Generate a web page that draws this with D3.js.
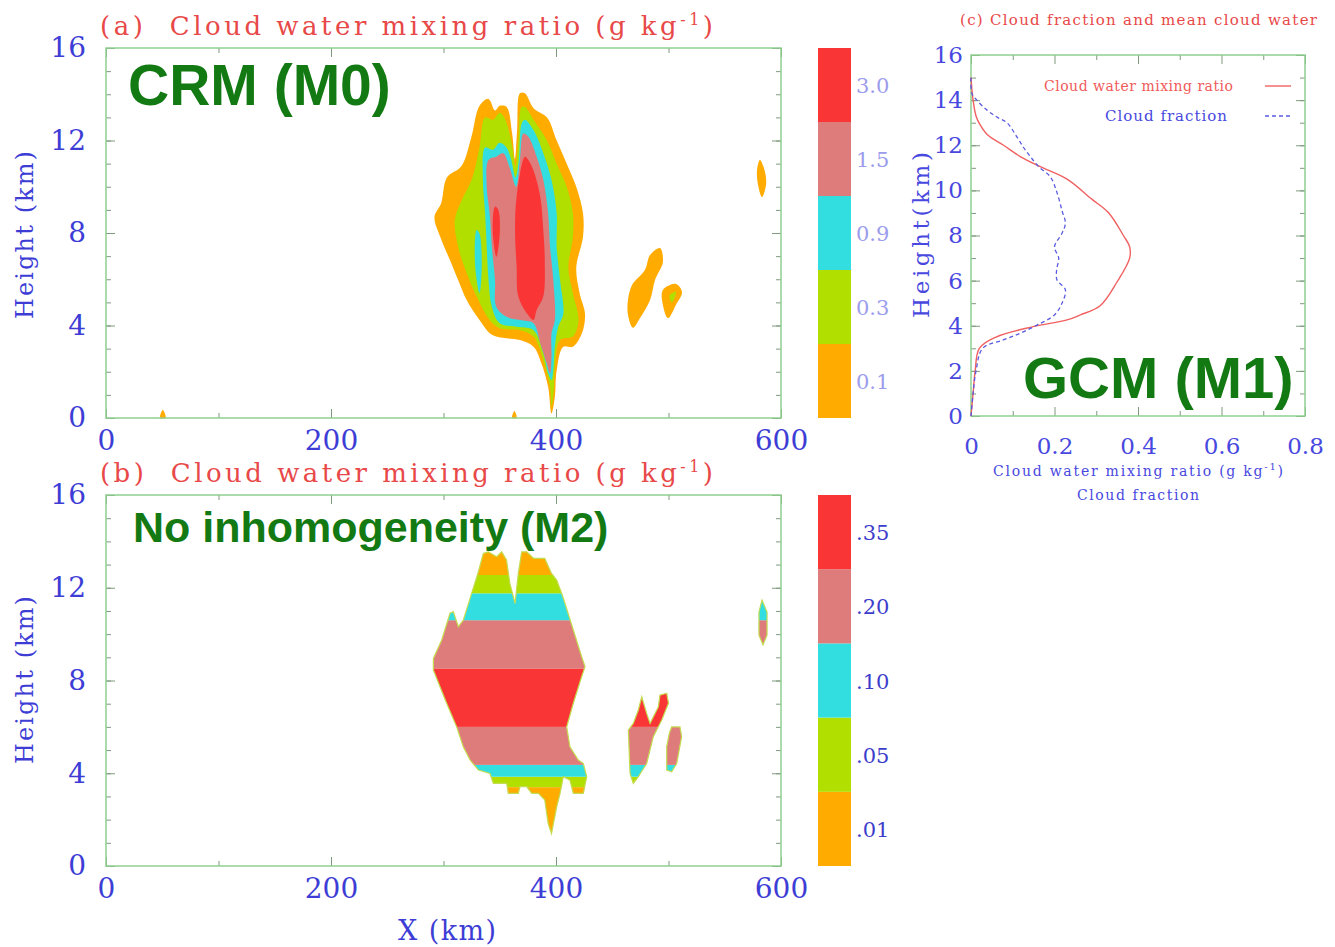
<!DOCTYPE html>
<meta charset="utf-8">
<style>
    body { margin: 0; background: #fff; }
    text { font-family: "DejaVu Serif", serif; }
    .tag { font-family: "Liberation Sans", Arial, sans-serif; font-weight: bold; fill: #137a13; }
</style>
<svg width="1335" height="947"></svg>
<script src="https://d3js.org/d3.v7.min.js"></script>
<script>

    // ---- data ----
    var levelsA = ["0.1", "0.3", "0.9", "1.5", "3.0"];
    var levelsB = [".01", ".05", ".10", ".20", ".35"];
    var levelColors = ["#ffab00", "#b0df00", "#33dee0", "#de7c7c", "#fa3535"];

    // panel (a): filled contour outlines, [x km, height km]
    var cloudA0 = [[340,13.8],[332,13.5],[325,12.2],[316,10.9],[303,10.4],[298,9.3],[292,8.7],[297,7.85],[306,6.8],[313,5.97],[320.6,5.1],[332,4.24],[343,3.6],[356,3.45],[368,3.37],[380,3.08],[387,2.37],[393,1.35],[396,0.2],[399,0.92],[400.6,2.07],[406.5,3.08],[415,3.08],[423,3.66],[425.8,4.5],[421,5.4],[418,6.5],[424,7.84],[424,8.85],[418,10.0],[409.5,11.0],[400.6,12.0],[392,13.0],[380,13.4],[372.4,14.04],[368,14.04],[365.5,12.5],[363.5,11.2],[361,12.3],[356,13.46],[350,13.5],[345.8,13.3]];
    var cloudA1 = [[337,13.0],[332,11.7],[325,10.3],[316,9.4],[310,8.56],[313,7.4],[320.6,6.26],[329.5,5.25],[341,4.24],[350,3.88],[368,3.8],[380,3.52],[388.7,2.5],[394.7,1.35],[396,0.5],[398,1.2],[399,2.2],[403.6,3.37],[415,3.52],[420,4.24],[415,5.4],[411,6.5],[415,7.84],[415,8.85],[409.5,10.0],[400.6,11.0],[392,12.0],[380,12.9],[372.4,13.46],[369.5,13.46],[366.5,12.0],[364,10.9],[360.5,11.9],[355,12.9],[350,13.2],[344,12.9]];
    var cloudA2 = [[337,11.7],[335,10.3],[337,8.85],[338.4,7.4],[340,5.97],[343,4.8],[350,4.1],[365,3.95],[380,3.8],[388.7,2.8],[393,1.93],[396,1.64],[397.6,2.07],[399,3.08],[402,3.95],[406.5,4.5],[403.6,5.97],[400.6,7.4],[400.6,8.85],[396,10.3],[388.7,11.45],[380,12.45],[372.4,12.9],[369.5,12.74],[367,11.2],[364,10.4],[360,11.2],[356,11.7],[350,11.9],[344,11.6]];
    var streakA = [[329.5,8.13],[328,6.69],[332,5.4],[334,6.54],[332,7.98]];
    var cloudA3 = [[340,11.16],[338.4,10.0],[341,8.85],[343,7.4],[345.8,5.97],[347,4.8],[356,4.38],[368,4.24],[380,4.1],[386,3.23],[391.7,2.37],[394.7,1.93],[396,2.65],[396,3.66],[399,4.24],[397.6,5.97],[394.7,7.4],[393,8.85],[388.7,10.3],[382.8,11.3],[375.4,12.16],[371,12.3],[368,11.16],[364.5,10.0],[359,10.8],[353,11.45],[347,11.3]];
    var cloudA4 = [[372.4,11.3],[365,9.57],[363.6,8.13],[365,6.54],[366.5,5.25],[374,4.53],[380,4.24],[382.8,4.67],[388.7,5.25],[390,6.83],[388.7,8.13],[386,9.57],[380,10.7],[375.4,11.16]];
    var coreA = [[345.8,9.14],[343.7,8.13],[347,6.97],[350,7.98],[348.7,9.0]];
    var blobA1 = [[464,5.1],[467.6,5.75],[479,6.4],[483.6,7.05],[492.4,7.35],[495,6.75],[488,5.97],[483.6,5.1],[474.7,4.32],[468.4,3.9],[464,4.45]];
    var blobA2 = [[495,5.54],[506.7,5.8],[512,5.45],[506.7,4.9],[499.6,4.32],[495,4.9]];
    var blobA2g = [[501,5.3],[506.7,5.45],[503,5.0]];
    var blobA3 = [[581.3,11.16],[585.8,10.64],[586.7,10.08],[583.1,9.56],[579.6,10.08],[578.7,10.72]];
    var speckA1 = [[48,0],[50.5,0.35],[53,0]];
    var speckA2 = [[361,0],[363,0.3],[365,0]];

    // panel (b): cloud outlines and height bands (level index per band)
    var cloudB = [[335.4,13.48],[339.8,13.55],[347.3,13.34],[351.7,13.55],[356,13.2],[359,12.19],[363.6,11.32],[366.5,12.62],[369.5,13.55],[374,13.55],[380,13.27],[390,13.27],[396,12.62],[400.6,12.33],[405,11.76],[408,11.32],[415.4,10.18],[422.8,9.03],[425.8,8.6],[422.8,8.16],[415.4,7.02],[409.5,6.0],[412.4,5.14],[419.8,4.57],[424.3,4.42],[427.3,3.85],[424.3,3.13],[415.4,3.13],[412.4,3.7],[406.5,3.85],[403.6,3.13],[400.6,2.55],[396,1.4],[393,1.84],[390,2.85],[384.3,3.13],[378.4,3.13],[374,3.42],[368,3.42],[366.5,3.13],[357.6,3.13],[356.2,3.56],[344.3,3.56],[341.3,3.99],[331,4.14],[323.6,4.57],[317.6,5.14],[311.7,6.0],[302.8,7.02],[296.9,7.73],[291,8.45],[291,8.95],[298.4,9.75],[305.8,10.9],[308.7,10.97],[313.2,10.32],[317.6,10.6],[325,11.76],[331,12.69]];
    var blobB1 = [[476.2,7.3],[480.6,6.58],[483.6,6.15],[491,6.87],[492.4,7.37],[498.4,7.45],[500,7.02],[494,6.3],[486.5,5.58],[480.6,4.42],[473.2,3.85],[468.7,3.56],[465.8,3.99],[464.3,5.86],[468.7,6.15],[473.2,6.73]];
    var blobB2 = [[502.8,6.0],[510.2,6.0],[511.7,5.58],[507.3,4.42],[502.8,4.06],[498.4,4.14],[498.4,5.14],[500.7,5.72]];
    var blobB3 = [[583.1,11.47],[587.6,10.95],[587.6,9.96],[584,9.53],[580.4,9.96],[580.4,10.95]];
    var bandEdgesB = [0, 3.4, 3.85, 4.36, 6.0, 8.52, 10.6, 11.76, 12.55, 16];
    var bandLevelB = [0, 1, 2, 3, 4, 3, 2, 1, 0];

    // panel (c): mean profiles
    var qcHeight = [0, 1, 2, 3, 3.5, 3.96, 4.26, 4.48, 4.9, 5.95, 7.0, 7.5, 8.0, 9.0, 9.6, 10.5, 11.05, 11.5, 12.0, 12.45, 12.9, 13.3, 14.0, 14.5, 15.0];
    var qcValue  = [0, 0.005, 0.01, 0.02, 0.06, 0.149, 0.23, 0.262, 0.31, 0.35, 0.38, 0.38, 0.365, 0.33, 0.29, 0.23, 0.166, 0.118, 0.078, 0.04, 0.022, 0.012, 0.005, 0.002, 0];
    var cfHeight = [0, 1, 2, 3, 3.37, 3.67, 4.03, 4.48, 5.0, 5.6, 6.03, 6.47, 7.0, 7.5, 8.1, 8.55, 9.1, 9.9, 10.6, 11.05, 11.5, 11.9, 12.37, 13.0, 13.25, 13.56, 14.0, 14.3, 15.0];
    var cfValue  = [0, 0.005, 0.012, 0.028, 0.077, 0.118, 0.158, 0.2, 0.218, 0.226, 0.206, 0.205, 0.21, 0.2, 0.218, 0.226, 0.218, 0.206, 0.19, 0.162, 0.142, 0.126, 0.11, 0.086, 0.062, 0.038, 0.014, 0.002, 0];

    // ---- drawing ----
    var svg = d3.select("svg");
    var frameColor = "#8fcf8f", tickColor = "#7f9a7f", blue = "#3d3dd6", red = "#e84848";

    var xA = d3.scaleLinear().domain([0, 600]).range([106, 781]);
    var yA = d3.scaleLinear().domain([0, 16]).range([418, 48]);
    var yB = d3.scaleLinear().domain([0, 16]).range([866, 495]);
    var xC = d3.scaleLinear().domain([0, 0.8]).range([971, 1305]);
    var yC = d3.scaleLinear().domain([0, 16]).range([416, 55]);

    function axes(x, y, xMaj, xMin, yMaj, yMin, fs, padX, padY, color) {
        var g = svg.append("g");
        var x0 = x.range()[0], x1 = x.range()[1], y0 = y.range()[0], y1 = y.range()[1];
        g.append("g").attr("transform", "translate(0," + y0 + ")")
            .call(d3.axisBottom(x).tickValues(xMin).tickSize(-5).tickFormat(""));
        g.append("g").attr("transform", "translate(0," + y0 + ")")
            .call(d3.axisBottom(x).tickValues(xMaj).tickSize(-9).tickPadding(padX).tickFormat(d3.format("")));
        g.append("g").attr("transform", "translate(0," + y1 + ")")
            .call(d3.axisTop(x).tickValues(xMin).tickSize(-5).tickFormat(""));
        g.append("g").attr("transform", "translate(0," + y1 + ")")
            .call(d3.axisTop(x).tickValues(xMaj).tickSize(-9).tickFormat(""));
        g.append("g").attr("transform", "translate(" + x0 + ",0)")
            .call(d3.axisLeft(y).tickValues(yMin).tickSize(-5).tickFormat(""));
        g.append("g").attr("transform", "translate(" + x0 + ",0)")
            .call(d3.axisLeft(y).tickValues(yMaj).tickSize(-9).tickPadding(padY));
        g.append("g").attr("transform", "translate(" + x1 + ",0)")
            .call(d3.axisRight(y).tickValues(yMin).tickSize(-5).tickFormat(""));
        g.append("g").attr("transform", "translate(" + x1 + ",0)")
            .call(d3.axisRight(y).tickValues(yMaj).tickSize(-9).tickFormat(""));
        g.selectAll(".domain").remove();
        g.selectAll(".tick line").attr("stroke", tickColor).attr("stroke-width", 1);
        g.selectAll(".tick text").attr("fill", color).attr("font-size", fs)
            .attr("font-family", "DejaVu Serif, serif");
        svg.append("rect").attr("x", x0).attr("y", y1).attr("width", x1 - x0).attr("height", y0 - y1)
            .attr("fill", "none").attr("stroke", frameColor).attr("stroke-width", 1.5);
    }

    function colorbar(y, labels, color) {
        var step = (y.range()[0] - y.range()[1]) / labels.length;
        var g = svg.append("g");
        labels.forEach(function (lab, i) {
            var top = y.range()[0] - (i + 1) * step;
            g.append("rect").attr("x", 818).attr("y", top).attr("width", 33).attr("height", step)
                .attr("fill", levelColors[i]);
            g.append("text").attr("x", 856).attr("y", top + step / 2 + 8)
                .attr("font-size", 21).attr("fill", color).text(lab);
        });
    }

    function title(x, y, label, len) {
        var t = svg.append("text").attr("x", x).attr("y", y).attr("fill", red)
            .attr("font-size", 26).attr("textLength", len).attr("lengthAdjust", "spacing")
            .attr("xml:space", "preserve").style("white-space", "pre");
        t.append("tspan").text(label + "  Cloud water mixing ratio (g kg");
        t.append("tspan").attr("dy", -10).attr("font-size", 16).text("-1");
        t.append("tspan").attr("dy", 10).text(")");
    }

    // panel (a)
    var lineA = d3.line().x(function (d) { return xA(d[0]); }).y(function (d) { return yA(d[1]); })
        .curve(d3.curveCatmullRomClosed.alpha(0.5));
    var shapesA = [[cloudA0, 0], [cloudA1, 1], [cloudA2, 2], [streakA, 2], [cloudA3, 3], [cloudA4, 4], [coreA, 4],
        [blobA1, 0], [blobA2, 0], [blobA2g, 1], [blobA3, 0], [speckA1, 0], [speckA2, 0]];
    svg.append("g").selectAll("path").data(shapesA).enter().append("path")
        .attr("d", function (d) { return lineA(d[0]); })
        .attr("fill", function (d) { return levelColors[d[1]]; });

    axes(xA, yA, [0, 200, 400, 600], [100, 300, 500], [0, 4, 8, 12, 16], d3.range(0, 17, 1), 28, 12, 20, blue);
    colorbar(yA, levelsA, "#9c9cec");
    title(100, 35, "(a)", 613);
    svg.append("text").attr("transform", "translate(33,235) rotate(-90)").attr("text-anchor", "middle")
        .attr("font-size", 24).attr("fill", blue).attr("textLength", 168).text("Height (km)");
    svg.append("text").attr("class", "tag").attr("x", 128).attr("y", 105).attr("font-size", 57).text("CRM (M0)");

    // panel (b)
    var lineB = d3.line().x(function (d) { return xA(d[0]); }).y(function (d) { return yB(d[1]); })
        .curve(d3.curveLinearClosed);
    var outlinesB = [cloudB, blobB1, blobB2, blobB3];
    svg.append("clipPath").attr("id", "cloudB").selectAll("path").data(outlinesB).enter().append("path")
        .attr("d", lineB);
    svg.append("g").attr("clip-path", "url(#cloudB)").selectAll("rect").data(bandLevelB).enter().append("rect")
        .attr("x", xA(0)).attr("width", xA(600) - xA(0))
        .attr("y", function (d, i) { return yB(bandEdgesB[i + 1]); })
        .attr("height", function (d, i) { return yB(bandEdgesB[i]) - yB(bandEdgesB[i + 1]); })
        .attr("fill", function (d) { return levelColors[d]; });
    svg.append("g").selectAll("path").data(outlinesB).enter().append("path")
        .attr("d", lineB).attr("fill", "none").attr("stroke", "#c4dc50").attr("stroke-width", 1.2);

    axes(xA, yB, [0, 200, 400, 600], [100, 300, 500], [0, 4, 8, 12, 16], d3.range(0, 17, 1), 28, 12, 20, blue);
    colorbar(yB, levelsB, "#3d3dcc");
    title(100, 482, "(b)", 613);
    svg.append("text").attr("transform", "translate(33,680) rotate(-90)").attr("text-anchor", "middle")
        .attr("font-size", 24).attr("fill", blue).attr("textLength", 168).text("Height (km)");
    svg.append("text").attr("x", 447).attr("y", 940).attr("text-anchor", "middle")
        .attr("font-size", 27).attr("fill", blue).attr("textLength", 98).text("X (km)");
    svg.append("text").attr("class", "tag").attr("x", 133).attr("y", 542).attr("font-size", 43).text("No inhomogeneity (M2)");

    // panel (c)
    axes(xC, yC, [0, 0.2, 0.4, 0.6, 0.8], [0.1, 0.3, 0.5, 0.7], d3.range(0, 17, 2), d3.range(0, 17, 1), 23, 22, 8, "#4848e0");
    var lineC = d3.line().x(function (d) { return xC(d[0]); }).y(function (d) { return yC(d[1]); })
        .curve(d3.curveCatmullRom.alpha(0.5));
    svg.append("path").attr("d", lineC(qcHeight.map(function (h, i) { return [qcValue[i], h]; })))
        .attr("fill", "none").attr("stroke", "#f06060").attr("stroke-width", 1.4);
    svg.append("path").attr("d", lineC(cfHeight.map(function (h, i) { return [cfValue[i], h]; })))
        .attr("fill", "none").attr("stroke", "#5a5ae0").attr("stroke-width", 1.3).attr("stroke-dasharray", "4,3");

    svg.append("text").attr("x", 960).attr("y", 25).attr("font-size", 15).attr("fill", red)
        .attr("textLength", 357).attr("lengthAdjust", "spacing").text("(c) Cloud fraction and mean cloud water");
    svg.append("text").attr("x", 1044).attr("y", 91).attr("font-size", 14).attr("fill", "#f05a5a")
        .attr("textLength", 189).attr("lengthAdjust", "spacing").text("Cloud water mixing ratio");
    svg.append("line").attr("x1", 1265).attr("x2", 1291).attr("y1", 86).attr("y2", 86)
        .attr("stroke", "#f06060").attr("stroke-width", 1.4);
    svg.append("text").attr("x", 1105).attr("y", 121).attr("font-size", 15).attr("fill", "#4848e0")
        .attr("textLength", 122).attr("lengthAdjust", "spacing").text("Cloud fraction");
    svg.append("line").attr("x1", 1265).attr("x2", 1291).attr("y1", 116).attr("y2", 116)
        .attr("stroke", "#5a5ae0").attr("stroke-width", 1.3).attr("stroke-dasharray", "4,3");

    var xl = svg.append("text").attr("x", 993).attr("y", 476).attr("font-size", 14).attr("fill", "#4848e0")
        .attr("textLength", 290).attr("lengthAdjust", "spacing");
    xl.append("tspan").text("Cloud water mixing ratio (g kg");
    xl.append("tspan").attr("dy", -6).attr("font-size", 10).text("-1");
    xl.append("tspan").attr("dy", 6).text(")");
    svg.append("text").attr("x", 1077).attr("y", 500).attr("font-size", 14).attr("fill", "#4848e0")
        .attr("textLength", 122).attr("lengthAdjust", "spacing").text("Cloud fraction");
    svg.append("text").attr("transform", "translate(929,235) rotate(-90)").attr("text-anchor", "middle")
        .attr("font-size", 23).attr("fill", "#4848e0").attr("textLength", 166).text("Height(km)");
    svg.append("text").attr("class", "tag").attr("x", 1023).attr("y", 398).attr("font-size", 58).text("GCM (M1)");

</script>
